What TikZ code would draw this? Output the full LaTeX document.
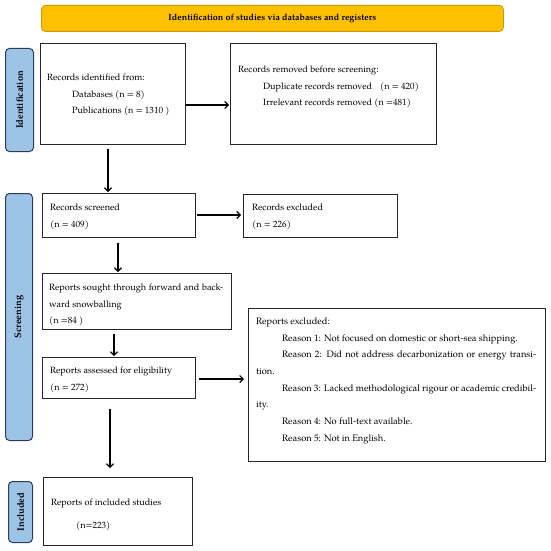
\documentclass[tikz,border=0pt]{standalone}
\usepackage{fontspec}
\setmainfont{texgyrepagella}[Extension=.otf, UprightFont=*-regular, BoldFont=*-bold, ItalicFont=*-italic, BoldItalicFont=*-bolditalic]
\usetikzlibrary{arrows.meta,calc}
\definecolor{labblue}{HTML}{9DC3E6}
\definecolor{labedge}{HTML}{2A3D5C}
\definecolor{banfill}{HTML}{FFC000}
\definecolor{banedge}{HTML}{C99A00}
\tikzset{
  box/.style={draw=black!85, line width=0.9pt, anchor=north west, inner sep=0pt},
  txt/.style={anchor=north west, inner sep=0pt, align=left, font=\fontsize{9.1}{16.7}\selectfont},
  jtxt/.style={anchor=north west, inner sep=0pt, align=justify, font=\fontsize{9.3}{16.7}\selectfont},
  arr/.style={line width=1.1pt, -{Straight Barb[length=3.5pt,width=7pt]}},
  phase/.style={draw=labedge, fill=labblue, rounded corners=4pt, line width=1pt, anchor=north west, inner sep=0pt},
  phasetxt/.style={rotate=90, font=\bfseries\fontsize{9.4}{11}\selectfont, inner sep=0pt},
}
\begin{document}
\begin{tikzpicture}[x=1pt,y=-1pt]
\useasboundingbox (0,0) rectangle (550,551);
% banner
\node[draw=banedge, fill=banfill, rounded corners=4pt, line width=0.8pt, anchor=north west, inner sep=0pt,
  minimum width=462pt, minimum height=26pt] (ban) at (41,5) {};
\node[font=\bfseries\fontsize{8.9}{11}\selectfont, inner sep=0pt] (bant) at (ban.center) {Identification of studies via databases and registers};
% phase labels
\node[phase, minimum width=28pt, minimum height=103pt] (pid) at (5,48) {};
\node[phasetxt] (pidt) at (pid.center) {Identification};
\node[phase, minimum width=27pt, minimum height=247pt] (psc) at (5,193) {};
\node[phasetxt] (psct) at (psc.center) {Screening};
\node[phase, minimum width=24pt, minimum height=61pt] (pin) at (8,481) {};
\node[phasetxt] (pint) at (pin.center) {Included};
% boxes
\node[box, minimum width=145pt, minimum height=101pt] (b1) at (40,43) {};
\node[box, minimum width=206pt, minimum height=101pt] (b2) at (230,43) {};
\node[box, minimum width=153pt, minimum height=44pt] (scr) at (42,193) {};
\node[box, minimum width=154pt, minimum height=43pt] (exc) at (243,194) {};
\node[box, minimum width=189pt, minimum height=56pt] (sou) at (42,273) {};
\node[box, minimum width=153pt, minimum height=41pt] (ass) at (42,357) {};
\node[box, minimum width=297pt, minimum height=153pt] (rex) at (248,308) {};
\node[box, minimum width=149pt, minimum height=68pt] (inc) at (43,477) {};
% texts
\node[txt] (t1) at (47,73.5) {Records identified from:\\\hspace*{25pt}Databases (n = 8)\\\hspace*{25pt}Publications (n = 1310 )};
\node[txt] (t2) at (238,65.5) {Records removed before screening:\\\hspace*{25pt}Duplicate records removed\hspace{8pt}(n = 420)\\\hspace*{25pt}Irrelevant records removed (n =481)};
\node[txt] (t3) at (50,203.5) {Records screened\\(n = 409)};
\node[txt] (t4) at (252,203.5) {Records excluded\\(n = 226)};
\node[jtxt, font=\fontsize{9.1}{16.7}\selectfont, text width=174pt] (t5) at (49,283.5) {Reports sought through forward and back-\linebreak ward snowballing\par\noindent(n =84 )};
\node[txt] (t6) at (50,366.5) {Reports assessed for eligibility\\(n = 272)};
\node[jtxt, text width=280pt] (t7) at (256,317.5) {\noindent Reports excluded:\par
\noindent\hspace*{26pt}Reason 1: Not focused on domestic or short-sea shipping.\par
\noindent\hspace*{26pt}Reason 2: Did not address decarbonization or energy transi-\linebreak tion.\par
\noindent\hspace*{26pt}Reason 3: Lacked methodological rigour or academic credibil-\linebreak ity.\par
\noindent\hspace*{26pt}Reason 4: No full-text available.\par
\noindent\hspace*{26pt}Reason 5: Not in English.};
\node[txt] (t8) at (51,498.5) {Reports of included studies\\[6pt]\hspace*{25pt}(n=223)};
% helper coordinates
\coordinate (y1) at (0,105);
\coordinate (y2) at (0,215);
\coordinate (y3) at (0,379);
\coordinate (x1) at (108,0);
\coordinate (x2) at (118,0);
\coordinate (x3) at (114,0);
\coordinate (x4) at (110,0);
% arrows
\draw[arr, shorten >=1pt] (b1.east |- y1) -- (b2.west |- y1);
\draw[arr, shorten <=4pt, shorten >=1pt] (b1.south -| x1) -- (scr.north -| x1);
\draw[arr, shorten <=1pt, shorten >=2pt] (scr.east |- y2) -- (exc.west |- y2);
\draw[arr, shorten <=5pt, shorten >=1pt] (scr.south -| x2) -- (sou.north -| x2);
\draw[arr, shorten <=4pt, shorten >=1pt] (sou.south -| x3) -- (ass.north -| x3);
\draw[arr, shorten <=3pt, shorten >=4pt] (ass.east |- y3) -- (rex.west |- y3);
\draw[arr, shorten <=10pt, shorten >=9pt] (ass.south -| x4) -- (inc.north -| x4);
\end{tikzpicture}
\end{document}
